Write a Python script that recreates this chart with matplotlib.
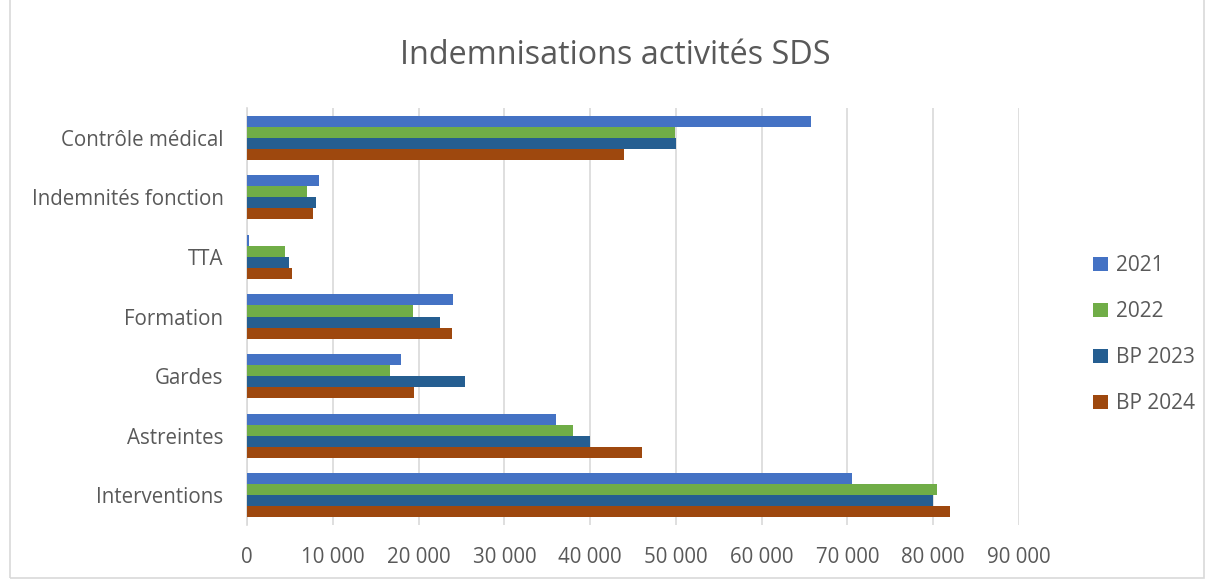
import numpy as np
import matplotlib.pyplot as plt
from matplotlib.patches import Rectangle
from matplotlib.ticker import FuncFormatter

plt.rcParams['font.family'] = ['Open Sans', 'DejaVu Sans']

# categories from bottom to top
categories = ['Interventions', 'Astreintes', 'Gardes', 'Formation', 'TTA',
              'Indemnités fonction', 'Contrôle médical']
v2021 = [70500, 36000, 18000, 24000, 200, 8400, 65800]
v2022 = [80400, 38000, 16700, 19300, 4400, 7000, 49900]
bp2023 = [80000, 40000, 25400, 22500, 4900, 8000, 50000]
bp2024 = [82000, 46000, 19500, 23900, 5200, 7700, 44000]

series = [('2021', v2021, '#4472C4'),
          ('2022', v2022, '#70AD47'),
          ('BP 2023', bp2023, '#255E91'),
          ('BP 2024', bp2024, '#9E480E')]

fig = plt.figure(figsize=(12.09, 5.8), dpi=100)
ax = fig.add_axes([0.2043, 0.0948, 0.6385, 0.719])

y = np.arange(len(categories))
h = 0.185
offsets = [1.5, 0.5, -0.5, -1.5]
for (name, vals, col), off in zip(series, offsets):
    ax.barh(y + off * h, vals, height=h, color=col, label=name, zorder=3)

ax.set_xlim(0, 90000)
ax.set_ylim(-0.5, len(categories) - 0.5)
ax.set_xticks(np.arange(0, 90001, 10000))
ax.xaxis.set_major_formatter(FuncFormatter(lambda v, p: f'{int(v):,}'.replace(',', ' ')))
ax.set_yticks(y)
ax.set_yticklabels(categories)
ax.tick_params(axis='both', length=0, labelsize=14.8, colors='#595959')
ax.tick_params(axis='x', pad=16)
ax.tick_params(axis='y', pad=17)
ax.grid(axis='x', color='#D9D9D9', linewidth=1.2, zorder=0)
for s in ['top', 'right', 'bottom']:
    ax.spines[s].set_visible(False)
ax.spines['left'].set_color('#D9D9D9')
ax.spines['left'].set_linewidth(1.2)

fig.text(0.509, 0.905, 'Indemnisations activités SDS', ha='center', va='center',
         fontsize=23.3, color='#595959')

handles, labels = ax.get_legend_handles_labels()
fig.legend(handles, labels, loc='center left', bbox_to_anchor=(0.904, 0.423),
           frameon=False, fontsize=15, labelcolor='#595959',
           handlelength=0.7, handleheight=0.7, handletextpad=0.4,
           labelspacing=1.2, borderpad=0, borderaxespad=0)

fig.patches.append(Rectangle((0.008, 0.003), 0.988, 1.2, transform=fig.transFigure,
                             fill=False, edgecolor='#D9D9D9', linewidth=1.2))

fig.savefig('out.png', dpi=100)
